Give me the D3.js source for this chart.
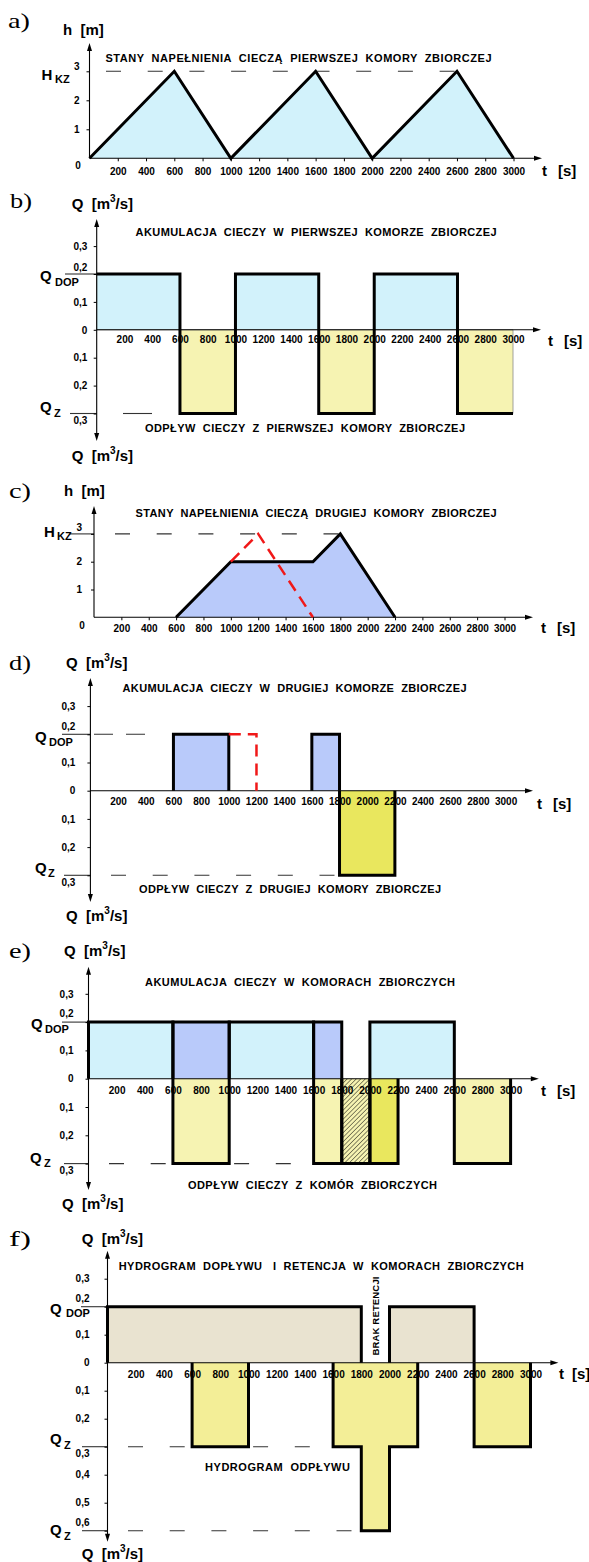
<!DOCTYPE html>
<html>
<head>
<meta charset="utf-8">
<script src="https://cdn.jsdelivr.net/npm/d3@7"></script>
<style>
  body { margin: 0; background: #fff; }
  text { font-family: "Liberation Sans", Arial, sans-serif; font-weight: bold; fill: #000; white-space: pre; }
</style>
</head>
<body>
<svg id="chart" width="589" height="1562"></svg>
<script>
var tTicks = [200, 400, 600, 800, 1000, 1200, 1400, 1600, 1800, 2000, 2200, 2400, 2600, 2800, 3000];
var hTicks = [1, 2, 3];
var qTicks = [0.3, 0.2, 0.1, 0, -0.1, -0.2, -0.3];
var qTicksF = [0.3, 0.2, 0.1, 0, -0.1, -0.2, -0.3, -0.4, -0.5, -0.6];

var Hkz = 3, Qdop = 0.2, Qz = 0.3, Qz2 = 0.6;

// a) first chamber level
var levelA_t = [0, 600, 1000, 1600, 2000, 2600, 3000];
var levelA_h = [0, 3, 0, 3, 0, 3, 0];
// b) first chamber in / out
var inflowB = [[0, 600], [1000, 1600], [2000, 2600]];
var outflowB = [[600, 1000], [1600, 2000], [2600, 3000]];
// c) second chamber level
var levelC_t = [600, 1000, 1600, 1800, 2200];
var levelC_h = [0, 2, 2, 3, 0];
var overC_t = [1000, 1200, 1600];
var overC_h = [2, 3, 0];
// d) second chamber in / out
var inflowD = [[600, 1000], [1600, 1800]];
var overD_t = [1000, 1200, 1200];
var overD_q = [0.2, 0.2, 0];
var outflowD = [[1800, 2200]];
// e) both chambers
var inflowE1 = [[0, 600], [1000, 1600], [2000, 2600]];
var inflowE2 = [[600, 1000], [1600, 1800]];
var outflowE1 = [[600, 1000], [1600, 1800], [2600, 3000]];
var outflowE0 = [[1800, 2000]];
var outflowE2 = [[2000, 2200]];
// f) hydrographs
var inflowF = [[0, 1800], [2000, 2600]];
var outflowF_t0 = [600, 1600, 1800, 2000, 2600];
var outflowF_t1 = [1000, 1800, 2000, 2200, 3000];
var outflowF_q = [0.3, 0.3, 0.6, 0.3, 0.3];

var cCyan = "#d2f2fb", cYel = "#f6f3b2", cBlue = "#b9cafa", cYelDark = "#e9e75e",
    cTan = "#e9e3d0", cYelF = "#f3ee97", cRed = "#f01818";

var svg = d3.select("#chart");
var defs = svg.append("defs");
var pat = defs.append("pattern").attr("id", "hatch").attr("patternUnits", "userSpaceOnUse")
  .attr("width", 3.2).attr("height", 3.2).attr("patternTransform", "rotate(45)");
pat.append("rect").attr("width", 3.2).attr("height", 3.2).attr("fill", cYel);
pat.append("line").attr("x1", 0).attr("y1", 0).attr("x2", 0).attr("y2", 3.2)
  .attr("stroke", "#000").attr("stroke-width", 0.9);

var fmtQ = function(v) { return v === 0 ? "0" : d3.format(".1f")(Math.abs(v)).replace(".", ","); };

function panel(o) {
  var p = { o: o };
  p.x = d3.scaleLinear().domain([0, 3000]).range([o.ax, o.x3000]);
  p.y = d3.scaleLinear().domain([0, o.step]).range([o.y0, o.y0 - o.px]);
  p.gRef = svg.append("g");
  p.gFill = svg.append("g");
  p.gAxis = svg.append("g");
  p.gLine = svg.append("g");
  p.gText = svg.append("g");
  return p;
}

function txt(g, x, y, s, o) {
  o = o || {};
  var t = g.append("text").attr("x", x).attr("y", y).attr("dominant-baseline", "central")
    .attr("font-size", o.size || 10).attr("text-anchor", o.anchor || "start").text(s);
  if (o.family) t.style("font-family", o.family);
  if (o.weight) t.style("font-weight", o.weight);
  if (o.len) t.attr("textLength", o.len).attr("lengthAdjust", o.adj || "spacing");
  return t;
}

function letter(x, y, s) {
  txt(svg, x, y, s, { size: 22, family: "'Liberation Serif', serif", weight: "normal", len: 22, adj: "spacingAndGlyphs" });
}

function title(g, x, y, s, w) { return txt(g, x, y, s, { size: 11, len: w }); }

function unitQ(g, x, y) {
  var t = g.append("text").attr("x", x).attr("y", y).attr("dominant-baseline", "central").attr("font-size", 15);
  t.append("tspan").text("Q  [m");
  t.append("tspan").attr("font-size", 10).attr("dy", -5).text("3");
  t.append("tspan").attr("dy", 5).text("/s]");
}

function sym(g, x, y, main, sub, sx, sy) {
  txt(g, x, y, main, { size: 15 });
  txt(g, sx, sy, sub, { size: 11 });
}

function drawAxes(p) {
  var o = p.o, g = p.gAxis;
  var yb = o.bottom || o.y0;
  g.append("line").attr("x1", o.ax).attr("x2", o.ax).attr("y1", o.top + 6).attr("y2", o.bottom ? yb - 6 : yb)
    .attr("stroke", "#000").attr("stroke-width", 1.1);
  g.append("path").attr("d", "M" + o.ax + "," + o.top + "l-2.5,8h5z").attr("fill", "#000");
  if (o.bottom) g.append("path").attr("d", "M" + o.ax + "," + yb + "l-2.5,-8h5z").attr("fill", "#000");
  g.append("line").attr("x1", o.ax).attr("x2", o.xEnd - 6).attr("y1", o.y0).attr("y2", o.y0)
    .attr("stroke", "#000").attr("stroke-width", 1.1);
  g.append("path").attr("d", "M" + o.xEnd + "," + o.y0 + "l-8,-2.5v5z").attr("fill", "#000");

  var gx = g.append("g").attr("transform", "translate(0," + o.y0 + ")")
    .call(d3.axisBottom(p.x).tickValues(tTicks).tickFormat(d3.format("d"))
      .tickSizeInner(o.xTick || 0).tickSizeOuter(0).tickPadding(o.xPad));
  gx.select(".domain").remove();
  gx.selectAll("text").attr("font-size", 10);

  var gy = g.append("g").attr("transform", "translate(" + o.ax + ",0)")
    .call(d3.axisLeft(p.y).tickValues(o.yVals).tickSizeInner(3).tickSizeOuter(0).tickPadding(o.yPad).tickFormat(o.fmt));
  gy.select(".domain").remove();
  gy.selectAll("text").attr("font-size", 10)
    .attr("y", function(d) {
      if ((o.raise || []).indexOf(d) >= 0) return o.raiseBy || -7.5;
      if ((o.lower || []).indexOf(d) >= 0) return 7;
      return 0;
    });

  txt(p.gText, o.tx, o.ty, "t", { size: 15 });
  txt(p.gText, o.tx + (o.sGap || 16), o.ty, "[s]", { size: 15 });
}

function refLine(p, x1, x2, v, dash) {
  p.gRef.append("line").attr("x1", x1).attr("x2", x2).attr("y1", p.y(v)).attr("y2", p.y(v))
    .attr("stroke", "#333").attr("stroke-width", 1.1).attr("stroke-dasharray", dash || null);
}

// segs: [t0, t1, q]; contiguous segments form one block
function drawBlocks(p, segs, sign, fill, opt) {
  opt = opt || {};
  var line = d3.line().x(function(d) { return p.x(d[0]); }).y(function(d) { return p.y(d[1]); });
  var groups = [];
  segs.forEach(function(s) {
    var last = groups[groups.length - 1];
    if (last && last[last.length - 1][1] === s[0]) last.push(s); else groups.push([s]);
  });
  groups.forEach(function(gr) {
    var pts = [[gr[0][0], 0]];
    gr.forEach(function(s) { pts.push([s[0], sign * s[2]], [s[1], sign * s[2]]); });
    pts.push([gr[gr.length - 1][1], 0]);
    p.gFill.append("path").attr("d", line(pts) + "Z").attr("fill", fill)
      .attr("stroke", opt.thin ? "#8a8a8a" : "none").attr("stroke-width", 0.8);
    if (!opt.noOutline) {
      p.gLine.append("path").attr("d", line(pts)).attr("fill", "none")
        .attr("stroke", "#000").attr("stroke-width", 3);
    }
  });
}

function withQ(segs, q) { return segs.map(function(s) { return [s[0], s[1], q]; }); }

var DASH = "15,26.7";

// ---------- a)
var pa = panel({ ax: 89.5, x3000: 513.5, y0: 158.3, step: 1, px: 29, top: 43, xEnd: 542, xTick: 3, xPad: 6.6, yPad: 7,
  yVals: hTicks, raise: [3], raiseBy: -4.6, fmt: d3.format("d"), tx: 542, ty: 170 });
drawAxes(pa);
refLine(pa, 106, pa.x(2600), Hkz, DASH);
var ptsA = levelA_t.map(function(t, i) { return [t, levelA_h[i]]; });
pa.gFill.append("path").attr("fill", cCyan)
  .attr("d", d3.area().x(function(d) { return pa.x(d[0]); }).y0(pa.y(0)).y1(function(d) { return pa.y(d[1]); })(ptsA));
pa.gLine.append("path").attr("fill", "none").attr("stroke", "#000").attr("stroke-width", 3)
  .attr("d", d3.line().x(function(d) { return pa.x(d[0]); }).y(function(d) { return pa.y(d[1]); })(ptsA));
letter(8, 20, "a)");
txt(pa.gText, 63, 29, "h  [m]", { size: 15 });
title(pa.gText, 105.5, 58, "STANY  NAPEŁNIENIA  CIECZĄ  PIERWSZEJ  KOMORY  ZBIORCZEJ", 386);
sym(pa.gText, 41.5, 74, "H", "KZ", 55, 79);
txt(pa.gText, 78, 165, "0", { size: 10, anchor: "middle" });

// ---------- b)
var pb = panel({ ax: 96.7, x3000: 513, y0: 329.8, step: 0.1, px: 27.9, top: 219, bottom: 441, xEnd: 541, xPad: 6, yPad: 6.4,
  yVals: qTicks, raise: [0.2], raiseBy: -6.6, lower: [-0.3], fmt: fmtQ, tx: 548, ty: 340 });
refLine(pb, 65, 96.7, Qdop);
refLine(pb, 70, 96.7, -Qz);
refLine(pb, 123, 152, -Qz);
drawBlocks(pb, withQ(inflowB, Qdop), 1, cCyan, { thin: true, noOutline: true });
drawBlocks(pb, withQ(outflowB, Qz), -1, cYel, { thin: true, noOutline: true });
drawAxes(pb);
var stepB = withQ(inflowB, Qdop).concat(withQ(outflowB, -Qz)).sort(function(a, b) { return a[0] - b[0]; });
var ptsB = [];
stepB.forEach(function(s) { ptsB.push([s[0], s[2]], [s[1], s[2]]); });
pb.gLine.append("path").attr("fill", "none").attr("stroke", "#000").attr("stroke-width", 3)
  .attr("d", d3.line().x(function(d) { return pb.x(d[0]); }).y(function(d) { return pb.y(d[1]); })(ptsB));
letter(10, 200, "b)");
unitQ(pb.gText, 71.7, 203);
unitQ(pb.gText, 71.7, 455);
title(pb.gText, 135.6, 232, "AKUMULACJA  CIECZY  W  PIERWSZEJ  KOMORZE  ZBIORCZEJ", 361);
title(pb.gText, 145, 428, "ODPŁYW  CIECZY  Z  PIERWSZEJ  KOMORY  ZBIORCZEJ", 320);
sym(pb.gText, 40, 275, "Q", "DOP", 55, 282);
sym(pb.gText, 40, 406.5, "Q", "Z", 54, 413);

// ---------- c)
var pc = panel({ ax: 94, x3000: 504.5, y0: 617.3, step: 1, px: 27.8, top: 506, xEnd: 533, xTick: 3, xPad: 4.6, yPad: 9,
  yVals: hTicks, raise: [3], raiseBy: -7, fmt: d3.format("d"), tx: 541, ty: 627 });
refLine(pc, 70, 94, Hkz);
refLine(pc, 115, pc.x(1800), Hkz, DASH);
var ptsC = levelC_t.map(function(t, i) { return [t, levelC_h[i]]; });
pc.gFill.append("path").attr("fill", cBlue)
  .attr("d", d3.area().x(function(d) { return pc.x(d[0]); }).y0(pc.y(0)).y1(function(d) { return pc.y(d[1]); })(ptsC));
drawAxes(pc);
pc.gLine.append("path").attr("fill", "none").attr("stroke", "#000").attr("stroke-width", 3)
  .attr("d", d3.line().x(function(d) { return pc.x(d[0]); }).y(function(d) { return pc.y(d[1]); })(ptsC));
var ptsC2 = overC_t.map(function(t, i) { return [t, overC_h[i]]; });
pc.gLine.append("path").attr("fill", "none").attr("stroke", cRed).attr("stroke-width", 2.5).attr("stroke-dasharray", "12,7")
  .attr("d", d3.line().x(function(d) { return pc.x(d[0]); }).y(function(d) { return pc.y(d[1]); })(ptsC2));
letter(9, 490, "c)");
txt(pc.gText, 64, 490, "h  [m]", { size: 15 });
title(pc.gText, 135.6, 513.3, "STANY  NAPEŁNIENIA  CIECZĄ  DRUGIEJ  KOMORY  ZBIORCZEJ", 361);
sym(pc.gText, 44, 531, "H", "KZ", 57, 536);
txt(pc.gText, 82, 625, "0", { size: 10, anchor: "middle" });

// ---------- d)
var pd = panel({ ax: 90.4, x3000: 505.6, y0: 790.7, step: 0.1, px: 28.2, top: 678, bottom: 902, xEnd: 533, xPad: 7.6, yPad: 12,
  yVals: qTicks, raise: [0.2], raiseBy: -8.5, lower: [-0.3], fmt: fmtQ, tx: 537, ty: 803 });
refLine(pd, 62, 90.4, Qdop);
refLine(pd, 94, 150, Qdop, "19,13");
refLine(pd, 64, 90.4, -Qz);
refLine(pd, 111, pd.x(1800), -Qz, DASH);
drawBlocks(pd, withQ(inflowD, Qdop), 1, cBlue);
drawBlocks(pd, withQ(outflowD, Qz), -1, cYelDark);
drawAxes(pd);
var ptsD2 = overD_t.map(function(t, i) { return [t, overD_q[i]]; });
pd.gLine.append("path").attr("fill", "none").attr("stroke", cRed).attr("stroke-width", 2.5).attr("stroke-dasharray", "12,7")
  .attr("d", d3.line().x(function(d) { return pd.x(d[0]); }).y(function(d) { return pd.y(d[1]); })(ptsD2));
letter(9, 662, "d)");
unitQ(pd.gText, 66, 662);
unitQ(pd.gText, 66, 915);
title(pd.gText, 122.5, 688.3, "AKUMULACJA  CIECZY  W  DRUGIEJ  KOMORZE  ZBIORCZEJ", 344);
title(pd.gText, 139, 889.3, "ODPŁYW  CIECZY  Z  DRUGIEJ  KOMORY  ZBIORCZEJ", 302);
sym(pd.gText, 35, 736, "Q", "DOP", 49, 742);
sym(pd.gText, 35, 867, "Q", "Z", 48, 873);

// ---------- e)
var pe = panel({ ax: 88.5, x3000: 510.6, y0: 1078.7, step: 0.1, px: 28.3, top: 966.7, bottom: 1190, xEnd: 538.8, xPad: 7.9, yPad: 12,
  yVals: qTicks, raise: [0.2], raiseBy: -8.5, lower: [-0.3], fmt: fmtQ, tx: 541, ty: 1090 });
refLine(pe, 62, 88.5, Qdop);
refLine(pe, 64, 88.5, -Qz);
refLine(pe, 109, pe.x(1600), -Qz, DASH);
drawBlocks(pe, withQ(inflowE1, Qdop), 1, cCyan);
drawBlocks(pe, withQ(inflowE2, Qdop), 1, cBlue);
drawBlocks(pe, withQ(outflowE1, Qz), -1, cYel);
drawBlocks(pe, withQ(outflowE0, Qz), -1, "url(#hatch)");
drawBlocks(pe, withQ(outflowE2, Qz), -1, cYelDark);
drawAxes(pe);
letter(9, 950, "e)");
unitQ(pe.gText, 64, 950);
unitQ(pe.gText, 62, 1203);
title(pe.gText, 145, 981.7, "AKUMULACJA  CIECZY  W  KOMORACH  ZBIORCZYCH", 310);
title(pe.gText, 188, 1185, "ODPŁYW  CIECZY  Z  KOMÓR  ZBIORCZYCH", 249);
sym(pe.gText, 31, 1023, "Q", "DOP", 45, 1029);
sym(pe.gText, 30, 1157, "Q", "Z", 44, 1163);

// ---------- f)
var pf = panel({ ax: 107.5, x3000: 530.5, y0: 1362.7, step: 0.1, px: 28, top: 1250.7, bottom: 1541.7, xEnd: 558.4, xPad: 7.9, yPad: 15,
  yVals: qTicksF, raise: [0.2, -0.6], raiseBy: -8.4, lower: [-0.3], fmt: fmtQ, tx: 559, ty: 1373, sGap: 13 });
refLine(pf, 81, 107.5, Qdop);
refLine(pf, 82, 107.5, -Qz);
refLine(pf, 128, pf.x(1600), -Qz, DASH);
refLine(pf, 82, 107.5, -Qz2);
refLine(pf, 128, pf.x(1800), -Qz2, DASH);
drawBlocks(pf, withQ(inflowF, Qdop), 1, cTan);
drawBlocks(pf, outflowF_t0.map(function(t, i) { return [t, outflowF_t1[i], outflowF_q[i]]; }), -1, cYelF);
drawAxes(pf);
letter(9, 1238, "f)");
unitQ(pf.gText, 81.7, 1238);
unitQ(pf.gText, 81.7, 1553);
title(pf.gText, 118.7, 1266, "HYDROGRAM  DOPŁYWU   I  RETENCJA  W  KOMORACH  ZBIORCZYCH", 405);
title(pf.gText, 205, 1467, "HYDROGRAM  ODPŁYWU", 145);
txt(pf.gText, 375, 1316, "BRAK RETENCJI", { size: 9.5, anchor: "middle", len: 79 })
  .attr("transform", "rotate(-90,375,1316)");
sym(pf.gText, 50, 1308, "Q", "DOP", 66, 1313);
sym(pf.gText, 50, 1438, "Q", "Z", 64, 1445);
sym(pf.gText, 50, 1529, "Q", "Z", 64, 1536);
</script>
</body>
</html>
